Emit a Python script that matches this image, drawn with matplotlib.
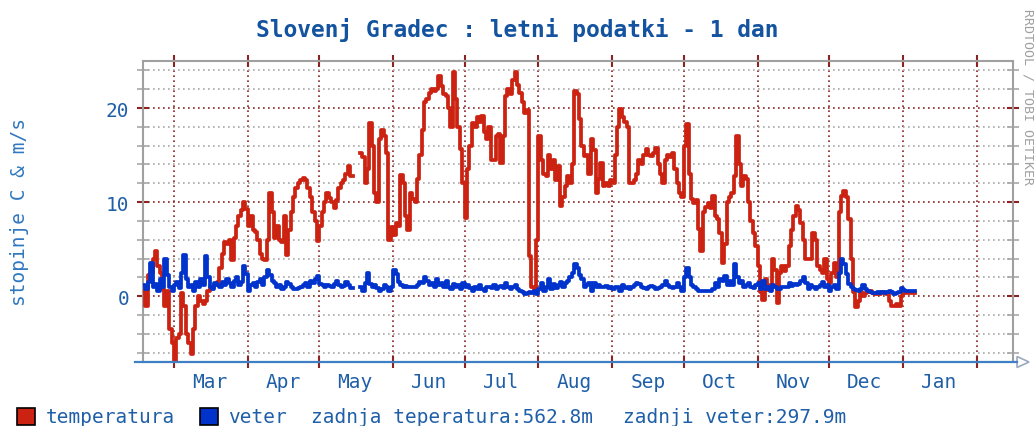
import numpy as np
import matplotlib
matplotlib.use("Agg")
import matplotlib.pyplot as plt
from matplotlib.patches import Rectangle, Polygon
from matplotlib.lines import Line2D

nan = np.nan

# daily values, first day 2011-02-16
start_day = np.datetime64("2011-02-16")
end_day = np.datetime64("2012-02-16")

temperatura = [
    0.5, -1, 2.2, 2.5, 4, 4.8, 3.2, 2.5, 0.8, -1,
    0.5, -3.5, -5, -7, -4.5, -4, 0.3, -1, -4, -5,
    -6.2, -3.5, -1, 0, -0.5, -0.8, -0.5, 0.5, 1, 1,
    1.2, 1.5, 3, 4.5, 5.8, 5.5, 6, 3.8, 6.2, 7.5,
    8.5, 9.2, 10, 9.3, 7.5, 8.5, 7, 6.8, 6, 4.5,
    4, 3.8, 6, 11, 9, 6.2, 7.5, 6, 5.8, 8.5,
    4.4, 7, 9, 10.5, 11.5, 12, 12.3, 12.6, 12.4, 11.5,
    10.5, 9, 8, 5.9, 7.5, 9, 10, 11, 10.4, 10,
    9.4, 10.2, 11.5, 12, 12.4, 13, 13.8, 12.8, nan, nan,
    nan, 15.2, 14.8, 12, 13.5, 18.4, 16, 11, 10, 16.7,
    17.7, 17, 15.2, 6, 7.4, 6.5, 7.8, 7.5, 12.9, 12,
    8.5, 7, 11, 10.3, 10, 12.5, 15, 17.7, 20.6, 21,
    21.6, 22, 21.8, 22, 23.4, 22.3, 21.5, 21.3, 20, 18,
    23.8, 21, 18, 15.6, 12, 8.3, 13.5, 16, 18.4, 18,
    19, 18.5, 19.2, 17.5, 16.7, 18, 14.5, 14.5, 17, 17.2,
    14.2, 17, 21.3, 22, 21.5, 23, 23.8, 22.5, 21.6, 20.6,
    19.5, 19.8, 4.3, 1, 0.4, 6, 17, 14.5, 13, 12.8,
    15, 13.5, 14.5, 12.4, 13.8, 9.6, 10.5, 11.7, 12.8, 12,
    14, 21.8, 21.5, 18.8, 16, 14.9, 15, 13, 16.7, 15.5,
    11, 12.5, 14.2, 11.7, 12, 11.7, 12.3, 12, 15, 18,
    19.9, 19, 18.5, 18, 12, 12, 12.3, 13, 14.5, 14,
    15, 15.6, 15, 14.9, 15.2, 15.8, 14, 13, 12, 14.5,
    15, 14.8, 15.2, 13.5, 12, 11, 10.5, 16, 18.3, 13,
    10.3, 9.9, 10.2, 7.1, 4.8, 8.9, 9.5, 9.9, 9.4, 10.6,
    8.5, 8.2, 6.7, 3.5, 5.5, 10, 10.5, 11, 12.8, 17,
    14, 11.7, 12.8, 12.5, 10, 8, 6.7, 5.3, 3.2, 0.4,
    -0.4, 1.8, 0.7, 1.2, 3.9, 2.8, -0.7, 2.5, 3.2, 2.7,
    3.2, 5.3, 7, 8.5, 9.6, 9.2, 7.8, 6, 3.9, 4,
    3.9, 6.7, 6, 3.2, 2.8, 2.5, 3.9, 1.8, 1.4, 2.5,
    3.5, 2, 8.9, 10.6, 11.2, 10.5, 8.2, 3.9, 0.4, -1.1,
    -0.5, 0.4, 0, 0.3, 0.4, 0.6, 0.3, 0.2, 0.3, 0.2,
    0.4, 0.3, 0.2, -0.5, -1, -1, -0.8, -1, 0, 0.4,
    0.3, 0.3, 0.3, 0.3, 0.3,
]

veter = [
    1.2, 0.8, 1.5, 3.5, 1.0, 1.3, 0.6, 1.8, 1.0, 3.9,
    2.2, 1.0, 0.6, 1.2, 1.5, 0.9, 2.5, 4.4, 1.8, 1.0,
    1.2, 0.5, 1.5, 1.0, 1.8, 1.2, 4.3, 2.0, 1.0, 0.8,
    1.4, 1.2, 1.0, 1.5, 1.2, 1.8, 1.4, 1.0, 1.6, 2.0,
    1.2, 1.5, 3.2, 2.4, 0.6, 1.2, 1.4, 1.0, 1.5, 1.8,
    1.2, 2.0, 2.8, 2.2, 1.6, 1.4, 1.0, 1.2, 0.8, 1.0,
    1.5, 1.3, 1.0, 0.8, 0.8, 0.9, 1.0, 1.2, 1.4, 1.0,
    1.6, 1.4, 1.8, 2.1, 1.3, 1.2, 1.0, 1.2, 1.1, 1.0,
    1.3, 1.6, 1.2, 1.0, 1.1, 1.5, 1.2, 0.9, nan, nan,
    nan, 1.0, 0.6, 1.4, 2.5, 1.3, 1.0, 1.2, 0.9, 0.6,
    0.8, 1.2, 1.0, 0.5, 1.0, 2.8, 2.4, 1.5, 1.2, 1.0,
    1.1, 1.0, 1.0, 1.0, 1.0, 1.2, 1.5, 1.4, 2.0, 1.6,
    1.2, 1.4, 1.0, 1.8, 1.2, 1.4, 1.0, 1.6, 1.0, 0.8,
    1.3, 1.0, 1.2, 0.8, 1.4, 1.0, 1.2, 0.9, 0.6, 1.0,
    0.8, 1.2, 0.8, 0.6, 1.0, 1.0, 0.9, 1.2, 0.8, 1.0,
    1.1, 0.9, 1.4, 1.0, 0.8, 1.0, 1.2, 0.8, 0.6, 0.4,
    0.2, 0.3, 0.4, 0.3, 0.6, 0.2, 0.8, 1.4, 0.6, 1.0,
    1.8, 0.8, 1.3, 0.9, 1.2, 1.5, 1.0, 1.4, 1.6, 2.0,
    2.5, 3.4, 3.0, 2.2, 1.8, 1.0, 1.2, 1.4, 0.6, 1.4,
    1.0, 1.2, 1.0, 1.0, 1.1, 0.9, 1.0, 0.8, 1.0, 1.0,
    0.6, 1.2, 0.9, 1.0, 0.8, 1.0, 1.2, 1.4, 1.3, 1.0,
    0.9, 0.8, 1.0, 1.1, 1.0, 0.8, 0.9, 1.0, 1.2, 1.6,
    1.2, 1.0, 0.9, 1.0, 1.4, 1.0, 0.6, 2.0, 3.0, 2.0,
    1.2, 1.0, 0.8, 0.6, 0.6, 0.6, 0.6, 0.6, 0.6, 0.8,
    1.4, 1.0, 1.8, 1.6, 2.1, 1.2, 1.6, 1.2, 3.4, 2.0,
    1.4, 1.6, 1.0, 1.2, 1.4, 1.0, 0.9, 1.2, 1.4, 0.8,
    1.6, 0.8, 1.0, 0.6, 1.2, 1.0, 0.8, 0.8, 1.0, 1.0,
    1.0, 1.4, 1.1, 1.3, 1.2, 1.3, 1.6, 2.0, 1.4, 0.8,
    1.2, 1.0, 0.8, 1.0, 1.2, 1.5, 1.0, 1.2, 0.6, 1.0,
    1.2, 0.8, 2.5, 3.9, 3.4, 2.4, 1.3, 1.0, 0.8, 0.7,
    0.6, 0.8, 1.2, 0.8, 0.6, 0.4, 0.3, 0.3, 0.4, 0.3,
    0.4, 0.3, 0.4, 0.5, 0.4, 0.2, 0.3, 0.4, 0.9, 0.7,
    0.6, 0.5, 0.5, 0.5, 0.5,
]

month_labels = ["Mar", "Apr", "May", "Jun", "Jul", "Aug", "Sep", "Oct", "Nov", "Dec", "Jan"]
y_major = [0, 10, 20]
y_minor = [-6, -4, -2, 2, 4, 6, 8, 12, 14, 16, 18, 22, 24]

title = "Slovenj Gradec : letni podatki - 1 dan"
ylabel = "stopinje C & m/s"
legend_texts = ["temperatura", "veter", "zadnja teperatura:562.8m", "zadnji veter:297.9m"]

RED = "#cc2211"
BLUE = "#0033cc"
TXT = "#1f5fa8"
GRID_MAJ = "#8c2323"
GRID_MIN = "#a8a8a8"
MONO = "DejaVu Sans Mono"

W, H = 1034, 427


def fx(px):
    return px / W


def fy(py):
    return 1 - py / H


fig = plt.figure(figsize=(W / 100, H / 100), dpi=100, facecolor="white")
ax = fig.add_axes([fx(143), fy(363), fx(1012.5) - fx(143), fy(62) - fy(363)])

days_t = start_day + np.arange(len(temperatura))
days_v = start_day + np.arange(len(veter))
ax.plot(days_t, temperatura, drawstyle="steps-post", color=RED, lw=2.7, zorder=3)
ax.plot(days_v, veter, drawstyle="steps-post", color=BLUE, lw=2.7, zorder=4)

ax.set_xlim(start_day, end_day)
ax.set_ylim(-7, 25)

month_starts = np.arange(np.datetime64("2011-03"), np.datetime64("2012-03"),
                         np.timedelta64(1, "M")).astype("datetime64[D]")
label_pos = month_starts[:len(month_labels)] + np.timedelta64(15, "D")
ax.set_xticks(month_starts)
ax.set_xticklabels([])
ax.set_xticks(label_pos, minor=True)
ax.set_xticklabels(month_labels, minor=True)

ax.set_yticks(y_major)
ax.set_yticklabels([str(v) for v in y_major])
ax.set_yticks(y_minor, minor=True)

ax.set_axisbelow(True)
dot = (0, (1, 2))
ax.grid(which="major", axis="x", color=GRID_MAJ, ls=dot, lw=1.2)
ax.grid(which="major", axis="y", color=GRID_MAJ, ls=dot, lw=1.2)
ax.grid(which="minor", axis="y", color=GRID_MIN, ls=dot, lw=1.2)

ax.tick_params(axis="x", which="major", direction="inout", length=8, width=1.5,
               color=GRID_MAJ, top=True, bottom=True)
ax.tick_params(axis="x", which="minor", length=0, pad=7, labelsize=14,
               labelcolor=TXT, labelfontfamily=MONO)
ax.tick_params(axis="y", which="major", direction="inout", length=8, width=1.5,
               color=GRID_MAJ, left=True, right=True, pad=6, labelsize=14,
               labelcolor=TXT, labelfontfamily=MONO)
ax.tick_params(axis="y", which="minor", direction="inout", length=8, width=1.2,
               color=GRID_MIN, left=True, right=True)

for s in ["left", "top", "right"]:
    ax.spines[s].set_color("#a0a0a0")
    ax.spines[s].set_linewidth(1.5)
ax.spines["bottom"].set_visible(False)

# x axis line with open arrow, as rrdtool draws it
fig.add_artist(Line2D([fx(135), fx(1017)], [fy(363), fy(363)], color="#3f7fc4", lw=1.6))
fig.add_artist(Polygon([[fx(1017), fy(357.5)], [fx(1029), fy(363)], [fx(1017), fy(368.5)]],
                       closed=True, fill=False, edgecolor="#9aaac0", lw=1.2))

fig.text(0.5, fy(30), title, ha="center", va="center", fontsize=16.5,
         fontweight="bold", family=MONO, color="#14539f")
fig.text(fx(20), fy(212), ylabel, rotation=90, ha="center", va="center",
         fontsize=14, family=MONO, color="#2f78c0")
fig.text(fx(1028), fy(9), "RRDTOOL / TOBI OETIKER", rotation=270, ha="center",
         va="top", fontsize=9.6, family=MONO, color="#a0a0a0")

# legend row
fig.add_artist(Rectangle((fx(17), fy(426)), 18 / W, 17 / H, facecolor=RED,
                         edgecolor="black", lw=1.2))
fig.add_artist(Rectangle((fx(200), fy(426)), 18 / W, 17 / H, facecolor=BLUE,
                         edgecolor="black", lw=1.2))
for x0, txt in zip([46, 228, 311, 623], legend_texts):
    fig.text(fx(x0), fy(418), txt, ha="left", va="center", fontsize=14,
             family=MONO, color=TXT)

fig.savefig("out.png", dpi=100, facecolor="white")
